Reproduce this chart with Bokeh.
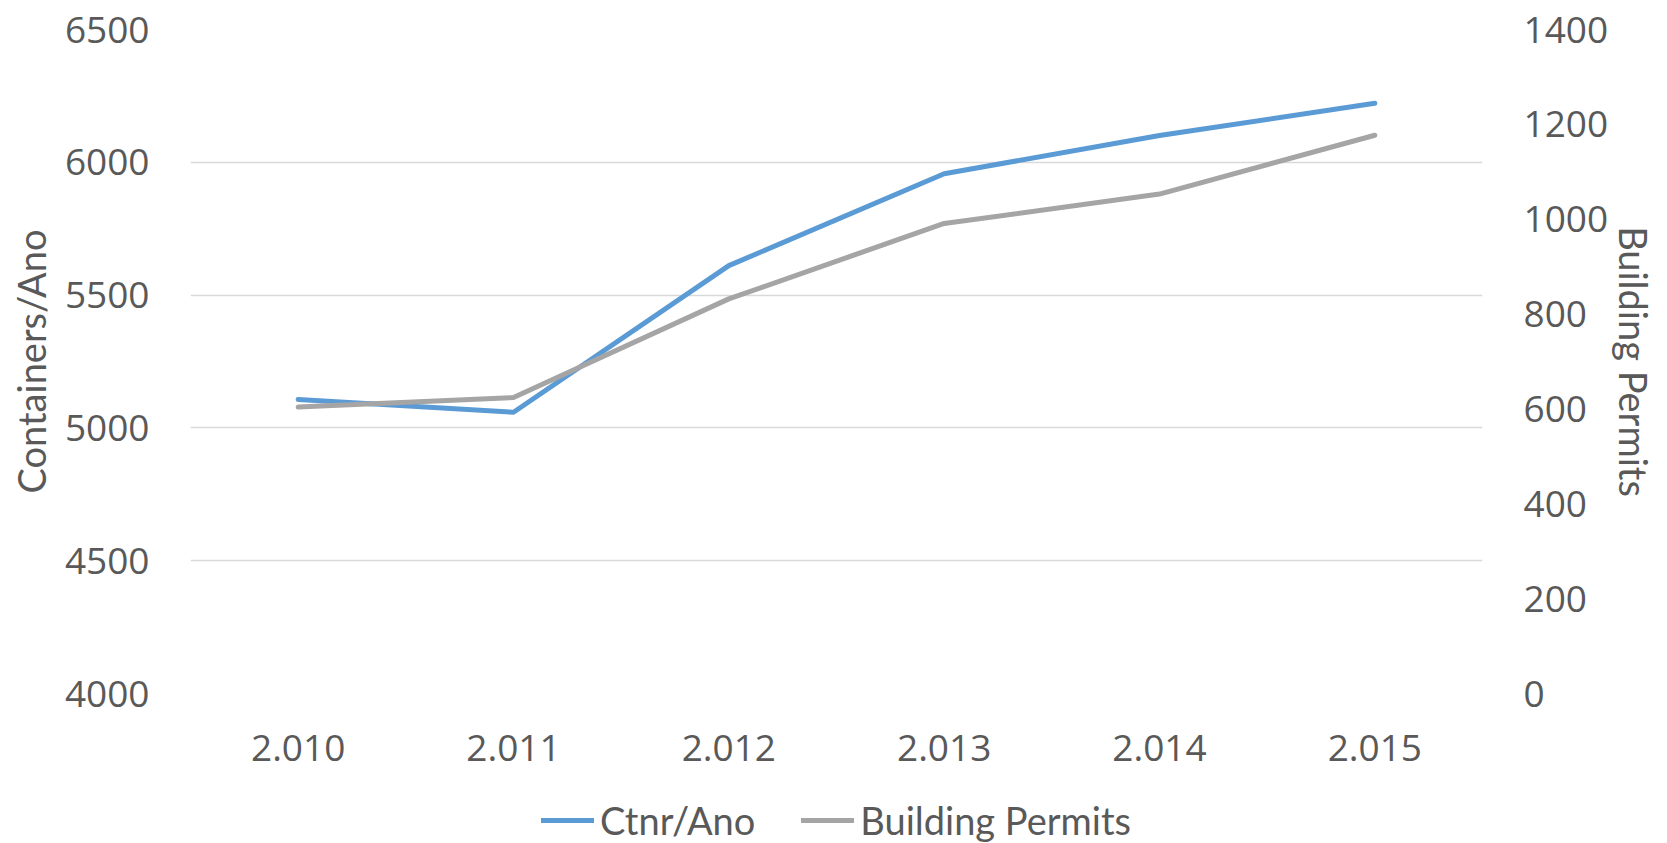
from bokeh.plotting import figure
from bokeh.layouts import column
from bokeh.models import Range1d, LinearAxis, FactorRange, Legend, LegendItem, FixedTicker
from bokeh.embed import file_html
from bokeh.resources import INLINE

years = ["2.010", "2.011", "2.012", "2.013", "2.014", "2.015"]
ctnr_ano = [5107, 5059, 5611, 5957, 6101, 6222]
building_permits = [604, 624, 832, 991, 1053, 1177]
left_ticks = [4000, 4500, 5000, 5500, 6000, 6500]
right_ticks = [0, 200, 400, 600, 800, 1000, 1200, 1400]
series_names = ["Ctnr/Ano", "Building Permits"]
series_colors = ["#5B9BD5", "#A5A5A5"]

TXT = "#595959"
TICK_FONT = "Open Sans"
TITLE_FONT = "Lato"
W = 1660

p = figure(
    x_range=FactorRange(*years), y_range=Range1d(4000, 6500),
    width=W, height=797, output_backend="svg", toolbar_location=None,
    min_border_left=190, min_border_right=178, min_border_top=29, min_border_bottom=104,
)
p.outline_line_color = None
p.background_fill_color = "white"
p.border_fill_color = "white"

p.extra_y_ranges = {"right": Range1d(0, 1400)}

p.line(years, ctnr_ano, line_color=series_colors[0], line_width=5, line_cap="round", line_join="round")
p.line(years, building_permits, y_range_name="right", line_color=series_colors[1], line_width=5,
       line_cap="round", line_join="round")

ya = p.yaxis[0]
ya.ticker = FixedTicker(ticks=left_ticks)
ya.axis_label = "Containers/Ano"

raxis = LinearAxis(y_range_name="right", ticker=FixedTicker(ticks=right_ticks), axis_label="Building Permits")
p.add_layout(raxis, "right")

for ax in [ya, raxis]:
    ax.axis_line_color = None
    ax.major_tick_line_color = None
    ax.minor_tick_line_color = None
    ax.major_tick_out = 0
    ax.major_tick_in = 0
    ax.major_label_standoff = 41
    ax.major_label_text_font = TICK_FONT
    ax.major_label_text_font_size = "37px"
    ax.major_label_text_color = TXT
    ax.axis_label_text_font = TITLE_FONT
    ax.axis_label_text_font_size = "38px"
    ax.axis_label_text_font_style = "normal"
    ax.axis_label_text_color = TXT
ya.axis_label_standoff = 8
raxis.axis_label_standoff = 0

xa = p.xaxis[0]
xa.axis_line_color = None
xa.major_tick_line_color = None
xa.minor_tick_line_color = None
xa.major_tick_out = 0
xa.major_tick_in = 0
xa.major_label_standoff = 41
xa.major_label_text_font = TICK_FONT
xa.major_label_text_font_size = "37px"
xa.major_label_text_color = TXT

p.xgrid.grid_line_color = None
p.ygrid.grid_line_color = "#D9D9D9"
p.ygrid.grid_line_width = 1.5
p.ygrid.ticker = FixedTicker(ticks=left_ticks)

# legend strip below the chart
pl = figure(width=W, height=46, output_backend="svg", toolbar_location=None,
            x_axis_location=None, y_axis_location=None,
            x_range=Range1d(0, 1), y_range=Range1d(0, 1),
            min_border_left=0, min_border_right=0, min_border_top=0, min_border_bottom=0)
pl.outline_line_color = None
pl.grid.grid_line_color = None
items = []
for name, col in zip(series_names, series_colors):
    # placeholder renderer outside the visible range, used only for the legend swatch
    r = pl.line([-10, -9], [-10, -9], line_color=col, line_width=5, line_cap="round")
    items.append(LegendItem(label=name, renderers=[r]))

legend = Legend(
    items=items, orientation="horizontal", location="center",
    glyph_width=53, glyph_height=20, label_height=20, label_standoff=6, spacing=46,
    padding=0, margin=0,
    label_text_font=TITLE_FONT, label_text_font_size="38px", label_text_color=TXT,
    background_fill_alpha=0, border_line_color=None,
)
pl.add_layout(legend, "center")

layout = column(p, pl, spacing=0)
open("out.html", "w").write(file_html(layout, INLINE))
